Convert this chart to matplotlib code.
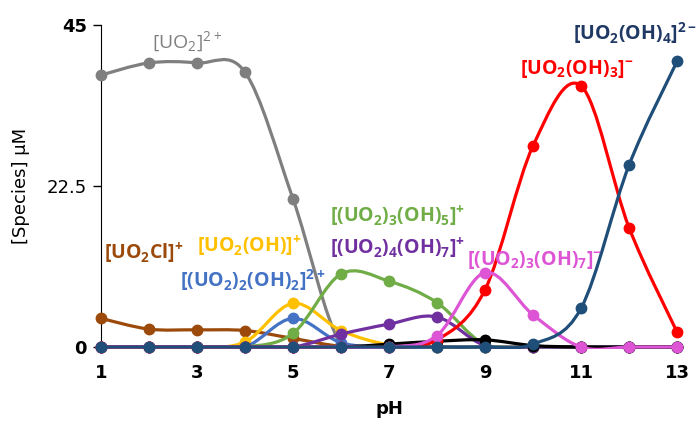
import matplotlib
matplotlib.use("Agg")
import matplotlib.pyplot as plt
from matplotlib.path import Path
from matplotlib.patches import PathPatch, Rectangle

# pH grid and speciation (uM)
ph = [1, 2, 3, 4, 5, 6, 7, 8, 9, 10, 11, 12, 13]

uo2 = [38.0, 39.7, 39.7, 38.4, 20.7, 0.3, 0, 0, 0, 0, 0, 0, 0]
uo2cl = [4.0, 2.5, 2.4, 2.3, 1.2, 0.1, 0, 0, 0, 0, 0, 0, 0]
uo2oh = [0, 0, 0, 0.7, 6.1, 2.3, 0.3, 0, 0, 0, 0, 0, 0]
uo2_2oh2 = [0, 0, 0, 0, 4.0, 0.6, 0, 0, 0, 0, 0, 0, 0]
uo2_3oh5 = [0, 0, 0, 0, 1.9, 10.2, 9.2, 6.2, 0.3, 0, 0, 0, 0]
uo2_4oh7 = [0, 0, 0, 0, 0, 1.8, 3.2, 4.2, 0.2, 0, 0, 0, 0]
other = [0, 0, 0, 0, 0, 0, 0.4, 0.8, 1.0, 0.2, 0, 0, 0]
uo2oh3 = [0, 0, 0, 0, 0, 0, 0, 1.0, 8.0, 28.1, 36.5, 16.7, 2.1]
uo2_3oh7 = [0, 0, 0, 0, 0, 0, 0, 1.6, 10.4, 4.5, 0, 0, 0]
uo2oh4 = [0, 0, 0, 0, 0, 0, 0, 0, 0, 0.4, 5.4, 25.4, 39.9]

# drawing order follows the original (last one on top)
series = [
    (uo2, "#7f7f7f"),
    (uo2cl, "#9c4a0b"),
    (uo2oh, "#ffc000"),
    (uo2_2oh2, "#4472c4"),
    (uo2_3oh5, "#70ad47"),
    (uo2_4oh7, "#7030a0"),
    (other, "#000000"),
    (uo2oh3, "#ff0000"),
    (uo2_3oh7, "#dd55d5"),
    (uo2oh4, "#1f4e79"),
]

labels = [
    (r"$\mathregular{[UO_2]^{2+}}$", 2.06, 42.6, "#7f7f7f", "normal"),
    (r"$\mathregular{[UO_2(OH)_4]^{2-}}$", 10.83, 43.9, "#1f3864", "bold"),
    (r"$\mathregular{[UO_2(OH)_3]^{-}}$", 9.73, 38.8, "#ff0000", "bold"),
    (r"$\mathregular{[(UO_2)_3(OH)_5]^{+}}$", 5.77, 18.2, "#70ad47", "bold"),
    (r"$\mathregular{[(UO_2)_4(OH)_7]^{+}}$", 5.77, 13.8, "#7030a0", "bold"),
    (r"$\mathregular{[(UO_2)_3(OH)_7]^{-}}$", 8.63, 12.2, "#dd55d5", "bold"),
    (r"$\mathregular{[UO_2Cl]^{+}}$", 1.06, 13.1, "#9c4a0b", "bold"),
    (r"$\mathregular{[UO_2(OH)]^{+}}$", 3.0, 14.1, "#ffc000", "bold"),
    (r"$\mathregular{[(UO_2)_2(OH)_2]^{2+}}$", 2.65, 9.4, "#4472c4", "bold"),
]


def smooth_path(x, y):
    # Excel-style smoothed line: cubic Bezier segments (Catmull-Rom tangents)
    n = len(x)
    verts = [(x[0], y[0])]
    codes = [Path.MOVETO]
    for i in range(n - 1):
        a = i - 1 if i > 0 else i
        b = i + 2 if i + 2 < n else i + 1
        c1 = (x[i] + (x[i + 1] - x[a]) / 6, y[i] + (y[i + 1] - y[a]) / 6)
        c2 = (x[i + 1] - (x[b] - x[i]) / 6, y[i + 1] - (y[b] - y[i]) / 6)
        verts += [c1, c2, (x[i + 1], y[i + 1])]
        codes += [Path.CURVE4] * 3
    return Path(verts, codes)


fig = plt.figure(figsize=(6.98, 4.24), dpi=100)
ax = fig.add_axes([101 / 698, 1 - 347 / 424, 576 / 698, 322 / 424])

clip = Rectangle((-0.01, -0.006), 1.03, 1.03, transform=ax.transAxes)

for z, (vals, col) in enumerate(series):
    patch = PathPatch(smooth_path(ph, vals), fill=False, edgecolor=col, lw=2.3,
                      capstyle="round", joinstyle="round", zorder=3 + z)
    ax.add_patch(patch)
    patch.set_clip_path(clip)
    ax.plot(ph, vals, "o", color=col, ms=7.5, zorder=3 + z, clip_on=False)

for txt, x, y, col, w in labels:
    ax.text(x, y, txt, color=col, fontsize=14, fontweight=w, family="Open Sans",
            ha="left", va="center", zorder=20)

ax.set_xlim(1, 13)
ax.set_ylim(0, 45)
ax.set_xticks([1, 3, 5, 7, 9, 11, 13])
ax.set_yticks([0, 22.5, 45])
ax.set_xticklabels(["1", "3", "5", "7", "9", "11", "13"], fontsize=13, fontweight="bold")
ax.set_yticklabels(["0", "22.5", "45"], fontsize=13)
for t in ax.get_yticklabels():
    if t.get_text() != "22.5":
        t.set_fontweight("bold")
ax.tick_params(axis="y", length=6, width=1, pad=4)
ax.tick_params(axis="x", length=4, width=1, pad=8)
ax.spines["top"].set_visible(False)
ax.spines["right"].set_visible(False)
ax.set_xlabel("pH", fontsize=13, fontweight="bold", labelpad=13)
ax.set_ylabel("[Species] μM", fontsize=13, labelpad=12)

fig.savefig("out.png", dpi=100)
